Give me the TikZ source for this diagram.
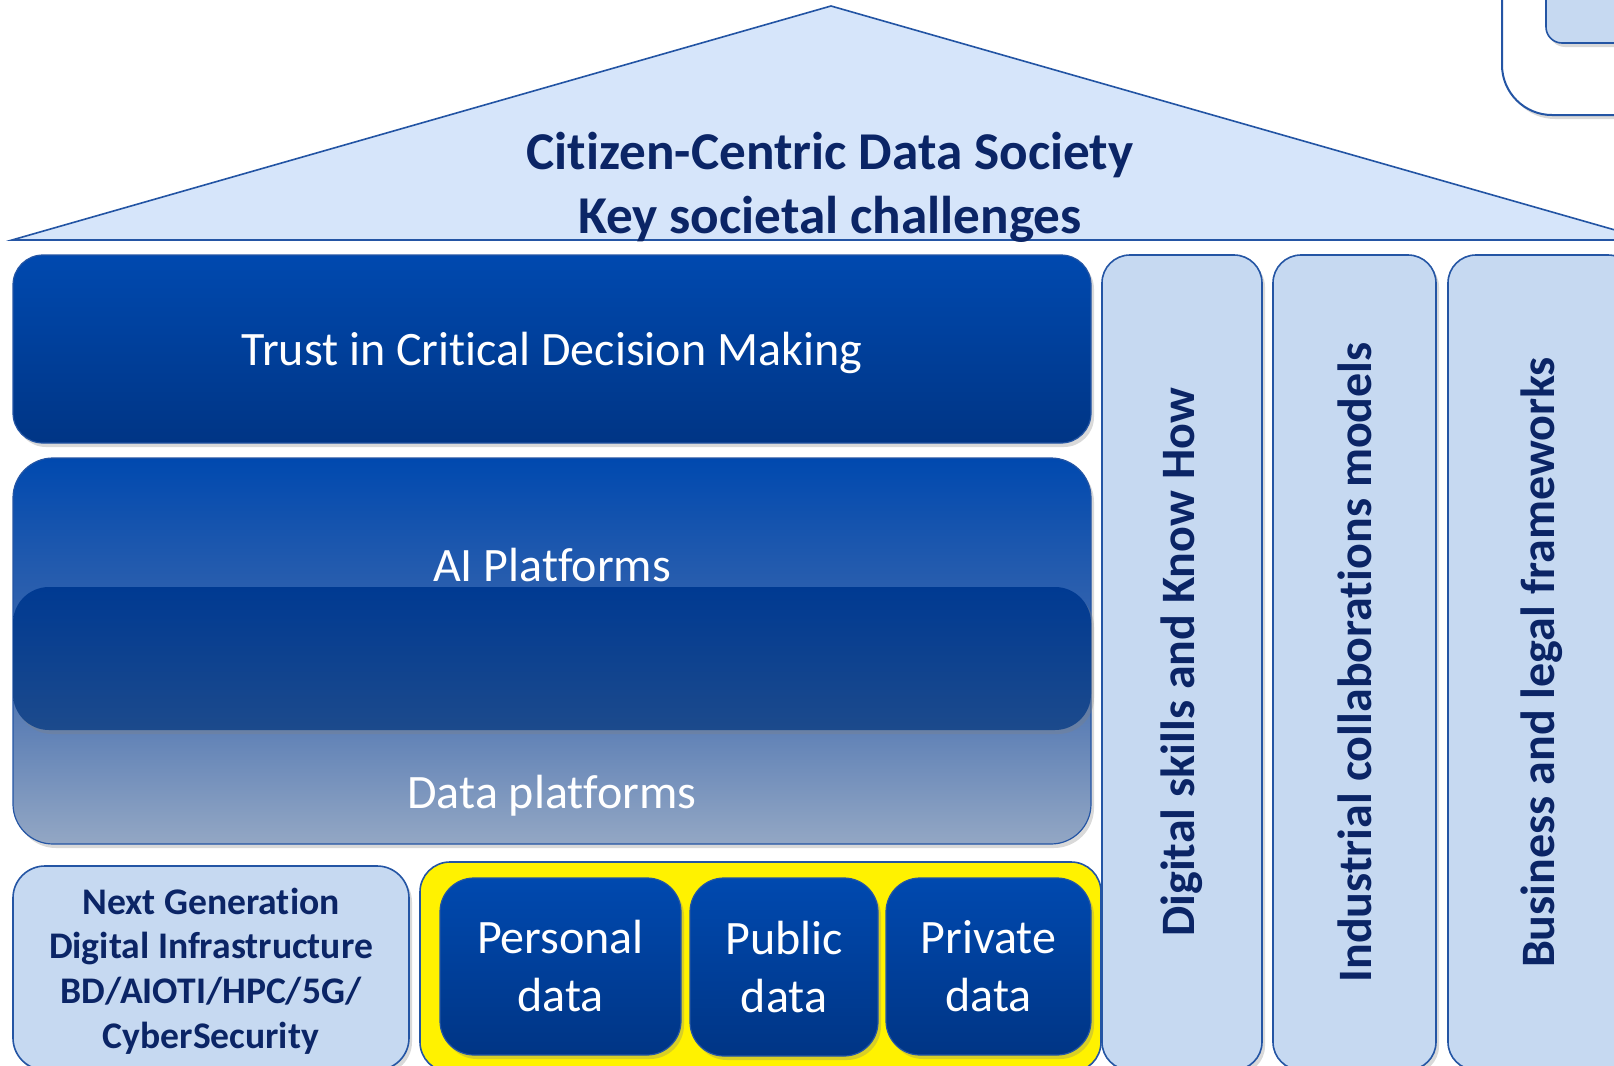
\documentclass[tikz,border=0pt]{standalone}
\usepackage{fontspec}
\setmainfont[Ligatures=NoCommon]{Carlito}
\usetikzlibrary{shadows}
\definecolor{textblue}{HTML}{0B2566}
\definecolor{edgeblue}{HTML}{2455A4}
\definecolor{paleblue}{HTML}{C6D9F1}
\definecolor{roofblue}{HTML}{D6E5FA}
\definecolor{deepblue}{HTML}{0049AF}
\definecolor{darkblue}{HTML}{003585}
\definecolor{fadeblue}{HTML}{3D68AD}
\definecolor{greyblue}{HTML}{93A7C4}
\definecolor{coretop}{HTML}{003A92}
\definecolor{corebottom}{HTML}{1C4A8C}

\begin{document}
\begin{tikzpicture}[x=0.5pt, y=-0.5pt]
        \tikzstyle{every node}=[inner sep=0pt, align=center]
        \tikzstyle{boxshadow}=[drop shadow={shadow xshift=1.5pt, shadow yshift=-2pt, opacity=0.3}]
        \tikzstyle{palebox}=[draw=edgeblue, line width=0.8pt, fill=paleblue, rounded corners=16pt, boxshadow, text=textblue, font=\bfseries\fontsize{18.8}{22.3}\selectfont]
        \tikzstyle{pillar}=[palebox, rotate=90, rounded corners=14pt, font=\bfseries\fontsize{24}{28}\selectfont]
        \tikzstyle{darkbox}=[draw=edgeblue, line width=0.6pt, top color=deepblue, bottom color=darkblue, text=white, boxshadow]
        \tikzstyle{databox}=[darkbox, rounded corners=17pt, font=\fontsize{24}{29}\selectfont]
        \tikzstyle{whitelabel}=[text=white, font=\fontsize{24}{28}\selectfont]
        \useasboundingbox (0,0) rectangle (1614,1066);
        % roof
        \coordinate (eaveL) at (12,240);
        \coordinate (ridge) at (831,6);
        \coordinate (eaveR) at (1650,240);
        \draw[draw=edgeblue, line width=0.8pt, fill=roofblue] (eaveL) -- (ridge) -- (eaveR) -- cycle;
        \node[text=textblue, font=\bfseries\fontsize{26.6}{32}\selectfont] (society) at (830,187) {Citizen-Centric Data Society\\Key societal challenges};
        % corner of the next slide part
        \node[draw=edgeblue, line width=1pt, fill=white, rounded corners=25pt, minimum width=99pt, minimum height=87.5pt, boxshadow] (frame) at (1601,27.5) {};
        \node[palebox, rounded corners=8pt, minimum width=77pt, minimum height=41.5pt] (tab) at (1623,1.5) {};
        % layers
        \node[darkbox, rounded corners=15pt, minimum width=539pt, minimum height=94pt] (trust) at (552,349) {};
        \node[whitelabel] (trustlabel) at (552,353) {Trust in Critical Decision Making};
        \node[darkbox, top color=deepblue, bottom color=greyblue, middle color=fadeblue, rounded corners=20pt, minimum width=539pt, minimum height=193pt] (platforms) at (552,651) {};
        \node[whitelabel] (ailabel) at (552,565) {AI Platforms};
        \node[darkbox, top color=coretop, bottom color=corebottom, draw=none, rounded corners=18pt, minimum width=539pt, minimum height=71.5pt] (core) at (552,658.5) {};
        \node[whitelabel] (datalabel) at (552,796) {Data platforms};
        % pillars
        \node[pillar, minimum width=407.5pt, minimum height=80pt] (skills) at (1182,662.5) {Digital skills and Know How};
        \node[pillar, minimum width=407.5pt, minimum height=81.5pt] (industry) at (1354.5,662.5) {Industrial collaborations models};
        \node[pillar, minimum width=407.5pt, minimum height=94pt] (business) at (1542,662.5) {Business and legal frameworks};
        % foundation
        \node[palebox, minimum width=198pt, minimum height=102pt] (infra) at (211,968) {};
        \node[text=textblue, font=\bfseries\fontsize{18.8}{22.3}\selectfont] (infralabel) at (211,971) {Next Generation\\Digital Infrastructure\\BD/AIOTI/HPC/5G/\\CyberSecurity};
        \node[draw=edgeblue, line width=0.8pt, fill=yellow, rounded corners=15pt, minimum width=340.5pt, minimum height=105pt] (sources) at (760.5,967) {};
        \node[databox, minimum width=120.5pt, minimum height=88.5pt] (personal) at (560.5,966.5) {Personal\\data};
        \node[databox, minimum width=94pt, minimum height=89pt] (public) at (784,967) {Public\\data};
        \node[databox, minimum width=102.5pt, minimum height=88.5pt] (private) at (988.5,966.5) {Private\\data};
\end{tikzpicture}
\end{document}
